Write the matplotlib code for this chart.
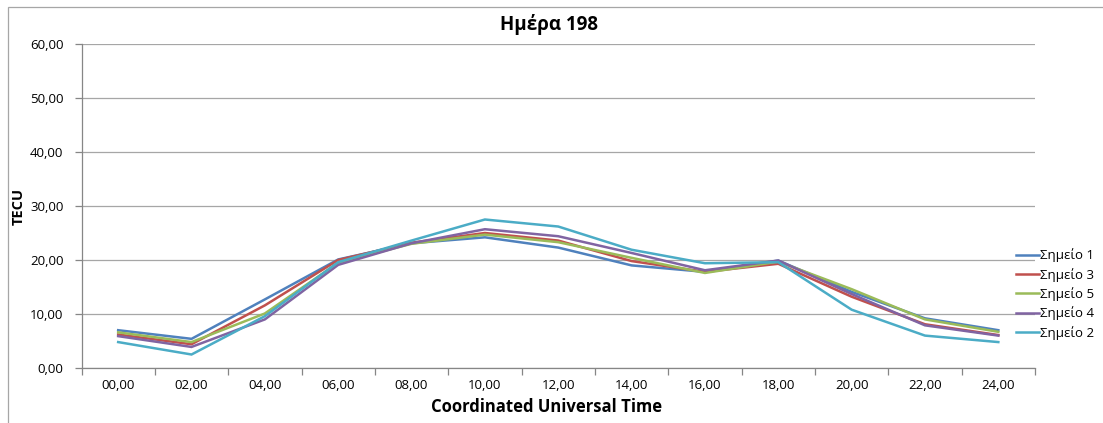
#!/usr/bin/env python3
"""TEC variation over one day for five stations (day 198)."""

import matplotlib
matplotlib.use("Agg")
import matplotlib.pyplot as plt
from matplotlib.patches import Rectangle

plt.rcParams["font.family"] = ["Open Sans", "DejaVu Sans"]

hours = ["00,00", "02,00", "04,00", "06,00", "08,00", "10,00", "12,00",
         "14,00", "16,00", "18,00", "20,00", "22,00", "24,00"]

point_1 = [7.0, 5.4, 12.7, 20.1, 23.1, 24.2, 22.3, 19.0, 17.8, 19.9, 14.1, 9.2, 7.0]
point_3 = [6.2, 4.4, 11.6, 20.0, 23.2, 25.0, 23.6, 19.8, 17.8, 19.3, 13.2, 8.1, 6.1]
point_5 = [6.6, 4.8, 10.1, 19.5, 23.0, 24.7, 23.3, 20.4, 17.6, 19.7, 14.6, 9.0, 6.7]
point_4 = [5.9, 3.9, 9.0, 19.1, 23.1, 25.7, 24.4, 21.3, 18.1, 19.9, 13.7, 7.9, 6.0]
point_2 = [4.8, 2.5, 9.6, 19.6, 23.6, 27.5, 26.2, 21.9, 19.4, 19.6, 10.8, 6.0, 4.8]

series = [
    ("Σημείο 1", point_1, "#4F81BD"),
    ("Σημείο 3", point_3, "#C0504D"),
    ("Σημείο 5", point_5, "#9BBB59"),
    ("Σημείο 4", point_4, "#8064A2"),
    ("Σημείο 2", point_2, "#4BACC6"),
]

W, H = 1103, 423
fig = plt.figure(figsize=(W / 100, H / 100), dpi=100)
ax = fig.add_axes([81.5 / W, 55 / H, (1035 - 81.5) / W, (368 - 44) / H])

x = list(range(len(hours)))
for label, values, color in series:
    ax.plot(x, values, color=color, lw=1.8, label=label, solid_joinstyle="miter")

axis_gray = "#868686"
ax.set_xlim(-0.5, len(hours) - 0.5)
ax.set_ylim(0, 60)
ax.set_yticks(range(0, 61, 10))
ax.set_yticklabels([f"{v},00" for v in range(0, 61, 10)], fontsize=9.5)
ax.set_xticks(x)
ax.set_xticklabels(hours, fontsize=9.5)
ax.set_xticks([i - 0.5 for i in range(len(hours) + 1)], minor=True)
ax.tick_params(axis="x", which="major", length=0, pad=8)
ax.tick_params(axis="x", which="minor", length=5, color=axis_gray, width=0.9)
ax.tick_params(axis="y", length=5, color=axis_gray, width=0.9, pad=8)
ax.grid(axis="y", color="#A6A6A6", lw=0.9)
ax.set_axisbelow(True)
for side in ("top", "right"):
    ax.spines[side].set_visible(False)
for side in ("left", "bottom"):
    ax.spines[side].set_color(axis_gray)
    ax.spines[side].set_linewidth(0.9)

ax.set_title("Ημέρα 198", fontsize=13.5, fontweight="bold", pad=10, x=0.49)
ax.set_xlabel("Coordinated Universal Time", fontsize=12, fontweight="bold",
              labelpad=4, x=0.488)
ax.set_ylabel("TECU", fontsize=10.5, fontweight="bold", labelpad=3)

fig.legend(loc="center left", bbox_to_anchor=(1016 / W, 1 - 294 / H),
           frameon=False, fontsize=9.5, handlelength=1.75, handletextpad=0.1,
           labelspacing=0.42, borderpad=0, borderaxespad=0)

# chart area border (only the top and left edges fall inside the image)
fig.patches.append(Rectangle((8 / W, -0.2), 1.5, 1.2 - 7 / H,
                             transform=fig.transFigure, fill=False,
                             edgecolor="#a6a6a6", lw=0.9))

fig.savefig("out.png", dpi=100)
